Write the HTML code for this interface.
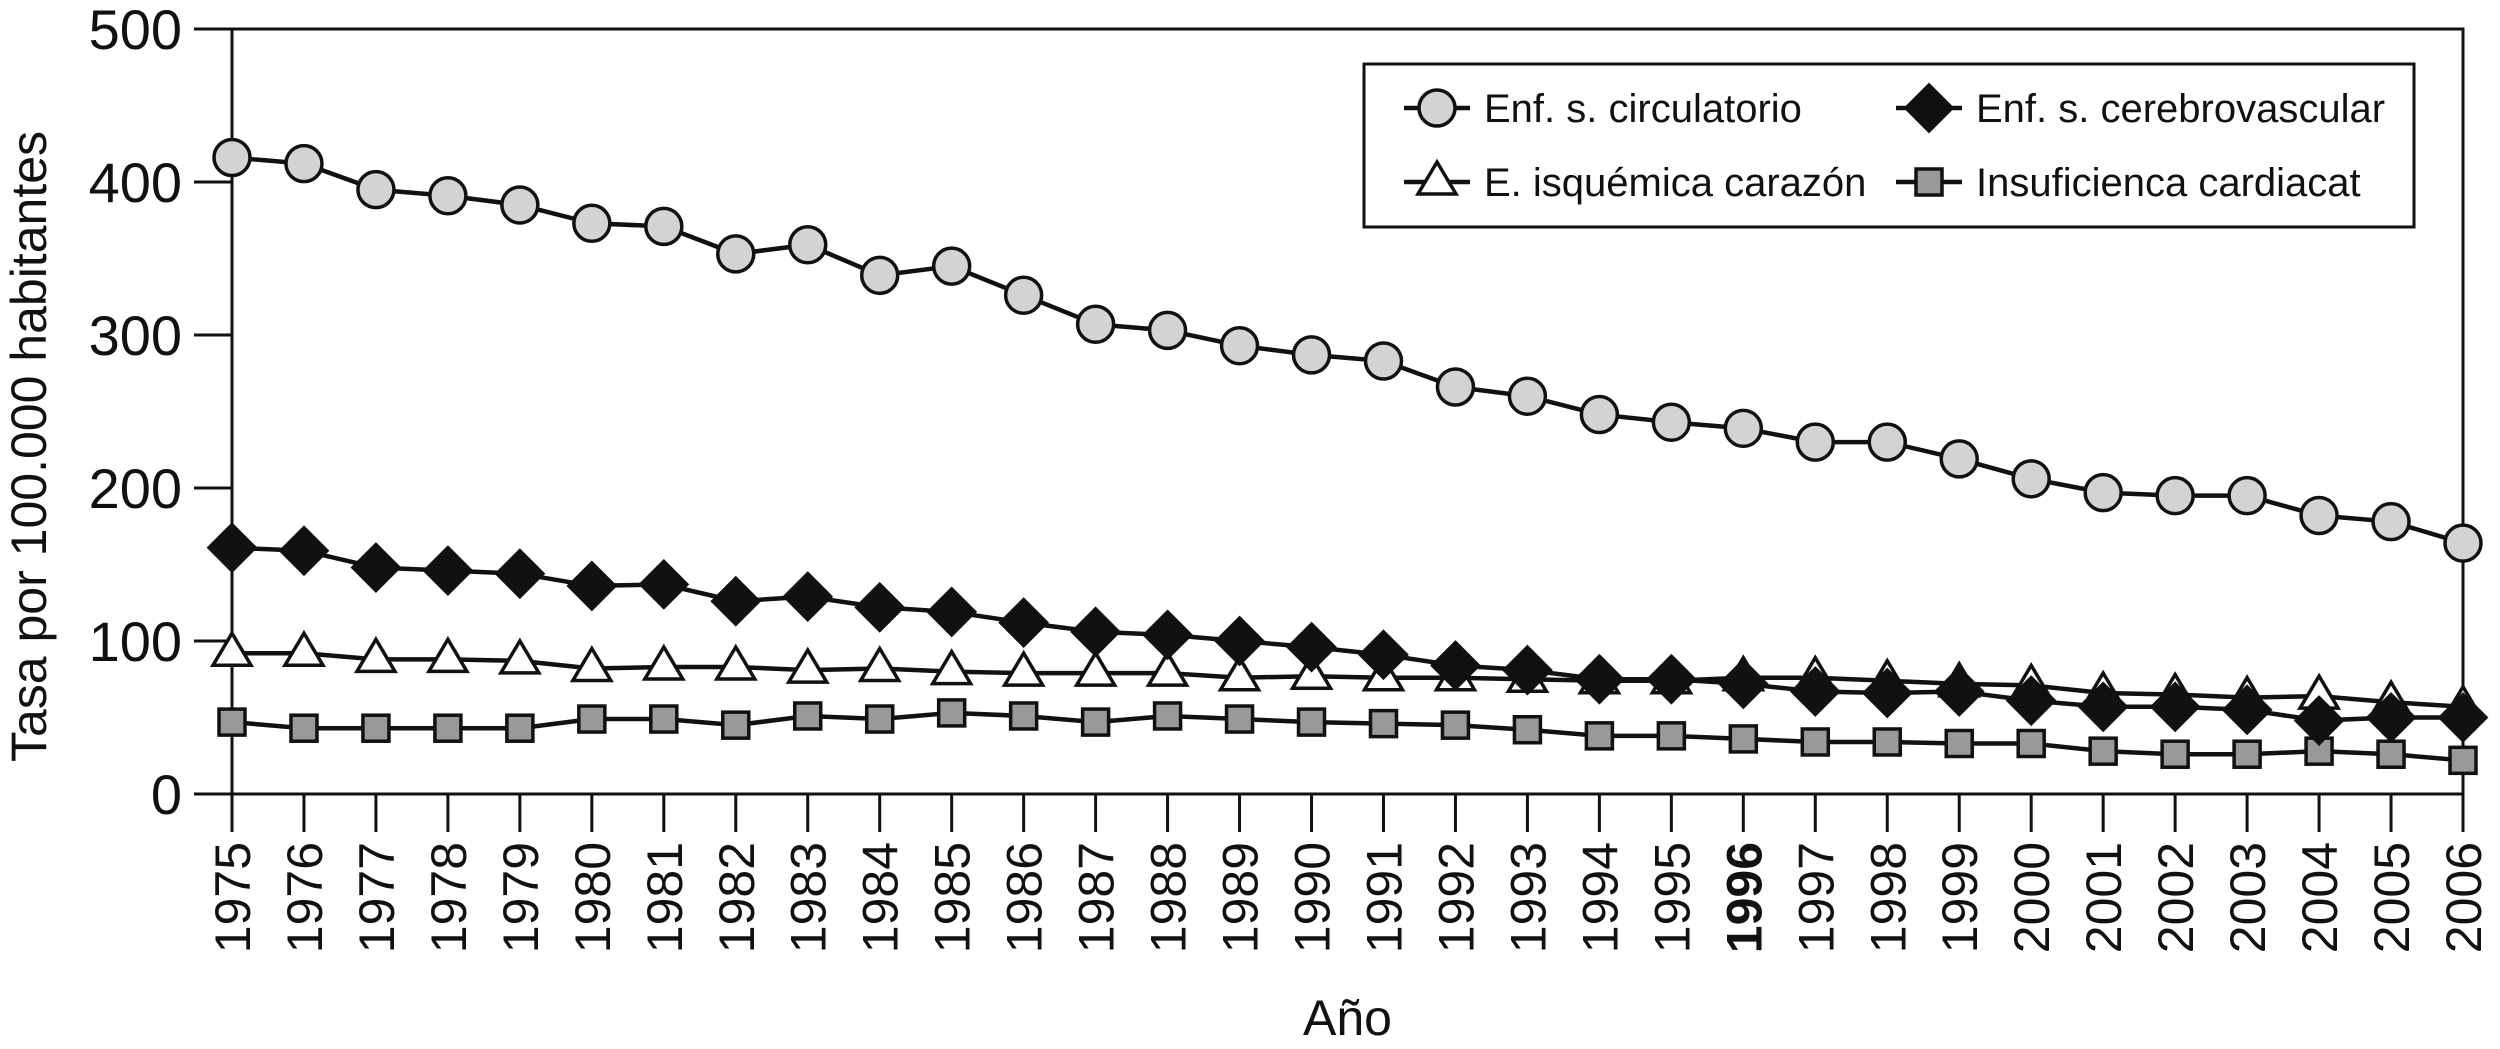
<!DOCTYPE html>
<html><head><meta charset="utf-8"><style>
html,body{margin:0;padding:0;background:#fff;}
svg{display:block;font-family:"Liberation Sans",Arial,sans-serif;}
</style></head><body>
<svg id="chart" width="2500" height="1049" viewBox="0 0 2500 1049" xmlns="http://www.w3.org/2000/svg"></svg>
<script>
const years=[1975,1976,1977,1978,1979,1980,1981,1982,1983,1984,1985,1986,1987,1988,1989,1990,1991,1992,1993,1994,1995,1996,1997,1998,1999,2000,2001,2002,2003,2004,2005,2006];
const circulatorio=[416,412,395,391,385,373,371,353,359,339,345,326,307,303,293,287,283,266,260,248,243,239,230,230,219,206,197,195,195,182,178,164];
const cerebrovascular=[161,159,148,146,144,136,137,126,129,122,119,112,106,104,100,96,91,84,81,75,75,72,67,66,67,61,57,57,55,48,50,50];
const isquemica=[92,92,88,88,87,82,83,83,81,82,80,79,79,79,76,77,76,76,75,74,74,76,76,74,72,71,66,65,63,64,60,57];
const insuficiencia=[47,43,43,43,43,49,49,45,51,49,53,51,47,51,49,47,46,45,42,38,38,36,34,34,33,33,28,26,26,28,26,22];
const yTicks=[0,100,200,300,400,500];

const NS="http://www.w3.org/2000/svg";
const svg=document.getElementById('chart');
const X0=232,X1=2463,Y0=794,Y1=29;
function xs(i){return X0+(X1-X0)*i/(years.length-1);}
function ys(v){return Y0-(Y0-Y1)*v/500;}
function el(tag,attrs,parent){const e=document.createElementNS(NS,tag);for(const k in attrs)e.setAttribute(k,attrs[k]);(parent||svg).appendChild(e);return e;}

const frame=el('path',{d:`M${X0} ${Y1} H${X1} V${Y0} H${X0} Z`,fill:'none',stroke:'#111','stroke-width':3});


yTicks.forEach(v=>{
  const t=el('line',{x1:X0-38,x2:X0,y1:ys(v),y2:ys(v),stroke:'#111','stroke-width':3});
  
  
  const l=el('text',{x:X0-50,y:ys(v)+20,'text-anchor':'end','font-size':56,fill:'#111'});
  l.textContent=v;
  
  
});
years.forEach((yr,i)=>{
  const t=el('line',{x1:xs(i),x2:xs(i),y1:Y0,y2:Y0+38,stroke:'#111','stroke-width':3});
  
  
  const l=el('text',{x:0,y:0,'text-anchor':'end','font-size':50,fill:'#111','font-weight':yr===1996?'bold':'normal',transform:`translate(${xs(i)+18},${Y0+48}) rotate(-90)`});
  l.textContent=yr;
  
  
});
const xt=el('text',{x:(X0+X1)/2,y:1035,'text-anchor':'middle','font-size':50,fill:'#111'});
xt.textContent='Año';


const yt=el('text',{x:0,y:0,'text-anchor':'middle','font-size':50,fill:'#111',transform:`translate(46,${(Y0+Y1)/2+35}) rotate(-90)`});
yt.textContent='Tasa por 100.000 habitantes';



function marker(type,x,y,g){
  if(type==='circle')return el('circle',{cx:x,cy:y,r:18,fill:'#d3d3d3',stroke:'#111','stroke-width':3.5},g);
  if(type==='diamond')return el('path',{d:`M${x} ${y-24} L${x+24} ${y} L${x} ${y+24} L${x-24} ${y} Z`,fill:'#111',stroke:'#111','stroke-width':2},g);
  if(type==='triangle')return el('path',{d:`M${x} ${y-20} L${x+19} ${y+12} L${x-19} ${y+12} Z`,fill:'#fff',stroke:'#111','stroke-width':3.5},g);
  return el('rect',{x:x-13,y:y-13,width:26,height:26,fill:'#999',stroke:'#111','stroke-width':3.5},g);
}
const series=[
  {name:'insuficiencia',data:insuficiencia,m:'square'},
  {name:'isquemica',data:isquemica,m:'triangle'},
  {name:'cerebrovascular',data:cerebrovascular,m:'diamond'},
  {name:'circulatorio',data:circulatorio,m:'circle'}
];
series.forEach(s=>{
  const g=el('g',{});
  
  
  const pts=s.data.map((v,i)=>xs(i)+','+ys(v)).join(' ');
  const pl=el('polyline',{points:pts,fill:'none',stroke:'#111','stroke-width':4.5},g);
  
  
  s.data.forEach((v,i)=>{
    const m=marker(s.m,xs(i),ys(v),g);
    
    
  });
});
const lg=el('g',{});


el('rect',{x:1364,y:64,width:1050,height:163,fill:'#fff',stroke:'#111','stroke-width':3},lg);
const entries=[
  {label:'Enf. s. circulatorio',m:'circle',x:1404,y:108},
  {label:'Enf. s. cerebrovascular',m:'diamond',x:1896,y:108},
  {label:'E. isquémica carazón',m:'triangle',x:1404,y:182},
  {label:'Insuficienca cardiacat',m:'square',x:1896,y:182}
];
entries.forEach(e=>{
  const g=el('g',{},lg);
  
  
  el('line',{x1:e.x,x2:e.x+66,y1:e.y,y2:e.y,stroke:'#111','stroke-width':4.5},g);
  marker(e.m,e.x+33,e.y,g);
  const t=el('text',{x:e.x+80,y:e.y+14,'font-size':40,fill:'#111'},g);
  t.textContent=e.label;
});
</script>
</body></html>
